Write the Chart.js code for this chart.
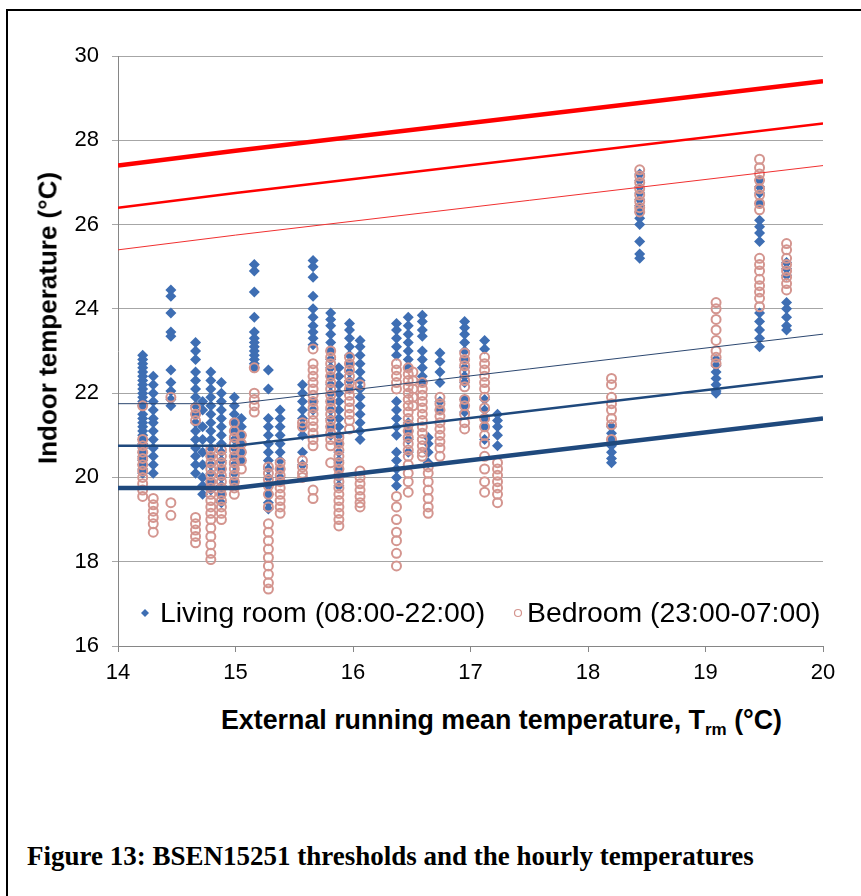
<!DOCTYPE html>
<html lang="en">
<head>
  <meta charset="UTF-8">
  <title>BSEN15251 thresholds and the hourly temperatures</title>
  <script src="https://cdn.jsdelivr.net/npm/chart.js"></script>
  <style>
    body { margin: 0; background: #fff; }
    #wrap { position: relative; width: 861px; height: 896px; overflow: hidden; }
    #frame { position: absolute; left: 6px; top: 9px; right: -10px; bottom: -10px;
             border-left: 2px solid #000; border-top: 2px solid #000; }
    #chart { position: absolute; left: 0; top: 0; }
    .title { position: absolute; font-family: "Liberation Sans", Arial, sans-serif;
             font-weight: bold; color: #000; white-space: nowrap; }
    #xTitle { left: 221px; top: 705px; font-size: 26.8px; }
    #xTitle sub { font-size: 17px; vertical-align: -6px; line-height: 0; }
    #yTitle { left: 48px; top: 318px; font-size: 26px;
              transform: translate(-50%, -50%) rotate(-90deg); }
    #caption { position: absolute; left: 27px; top: 841px; white-space: nowrap;
               font-family: "Liberation Serif", "Times New Roman", serif;
               font-weight: bold; font-size: 27px; color: #000; }
  </style>
</head>
<body>
<div id="wrap">
  <div id="frame"></div>
  <canvas id="chart" width="861" height="700"></canvas>
  <div class="title" id="yTitle">Indoor temperature (°C)</div>
  <div class="title" id="xTitle">External running mean temperature, T<sub>rm</sub> (°C)</div>
  <div id="caption">Figure 13: BSEN15251 thresholds and the hourly temperatures</div>
</div>

<script>
  // running mean temperature of each hourly column (x)
  const livingCols = [14.21, 14.30, 14.45, 14.66, 14.72, 14.79, 14.88, 14.99, 15.05, 15.16,
                      15.28, 15.38, 15.57, 15.66, 15.81, 15.88, 15.97, 16.06, 16.37, 16.47,
                      16.59, 16.64, 16.74, 16.95, 17.12, 17.23, 18.20, 18.44, 19.09, 19.46, 19.69];
  // living room hourly temperatures (08:00-22:00), one list per column
  const livingTemps = [
    [22.9, 22.8, 22.7, 22.6, 22.5, 22.4, 22.3, 22.2, 22.1, 22.0, 21.9, 21.8, 21.7, 21.5, 21.4, 21.3, 21.2, 21.1, 21.0, 20.9, 20.8, 20.7, 20.6, 20.5, 20.4, 20.3, 20.2, 20.1],
    [22.4, 22.2, 22.0, 21.8, 21.6, 21.4, 21.3, 21.1, 20.9, 20.7, 20.5, 20.3, 20.1],
    [24.45, 24.3, 23.9, 23.45, 23.35, 22.55, 22.25, 22.05, 21.85, 21.7],
    [23.2, 23.0, 22.8, 22.5, 22.3, 22.1, 21.9, 21.7, 21.5, 21.3, 21.1, 20.9, 20.7, 20.5, 20.3, 20.1],
    [21.8, 21.6, 21.2, 20.9, 20.6, 20.3, 20.0, 19.8, 19.6],
    [22.5, 22.3, 22.1, 21.9, 21.7, 21.5, 21.3, 21.1, 20.9, 20.7, 20.5, 20.3, 20.1, 19.9, 19.7],
    [22.25, 22.0, 21.8, 21.6, 21.4, 21.2, 21.0, 20.8, 20.6, 20.4, 20.2, 20.0, 19.8, 19.6, 19.4],
    [21.9, 21.7, 21.5, 21.3, 21.1, 20.9, 20.7, 20.5, 20.3, 20.1, 19.9],
    [21.4, 21.2, 21.0, 20.8, 20.6, 20.4],
    [25.05, 24.9, 24.4, 23.8, 23.45, 23.3, 23.2, 23.1, 23.0, 22.9, 22.8, 22.7, 22.6],
    [22.55, 22.1, 21.4, 21.2, 21.0, 20.8, 20.6, 20.4, 20.2, 20.0, 19.8, 19.6, 19.4, 19.25],
    [21.6, 21.4, 21.2, 21.0, 20.8, 20.6, 20.4, 20.2, 20.0, 19.9],
    [22.2, 22.0, 21.8, 21.6, 21.4, 21.2, 21.0, 20.6, 20.3],
    [25.15, 25.0, 24.75, 24.3, 24.0, 23.8, 23.6, 23.45, 23.3, 23.15, 21.8, 21.6],
    [23.9, 23.75, 23.6, 23.4, 23.2, 23.0, 22.8, 22.6, 22.4, 22.2, 22.0, 21.8, 21.6, 21.4, 21.2, 21.0],
    [22.6, 22.4, 22.2, 22.0, 21.8, 21.6, 21.4, 21.2, 21.0, 20.8, 20.6, 20.4, 20.2, 20.0, 19.8],
    [23.65, 23.5, 23.3, 23.1, 22.9, 22.7, 22.5, 22.3, 22.1],
    [23.25, 23.1, 22.9, 22.7, 22.5, 22.3, 22.1, 21.9, 21.7, 21.5, 21.3, 21.1, 20.9],
    [23.65, 23.5, 23.3, 23.1, 22.9, 21.8, 21.6, 21.4, 21.2, 21.0, 20.6, 20.4, 20.2, 20.0, 19.8],
    [23.8, 23.6, 23.4, 23.2, 23.0, 22.8, 22.6, 21.3, 21.1, 20.9, 20.6],
    [23.85, 23.7, 23.5, 23.35, 23.0, 22.8, 22.6, 22.4, 22.25],
    [20.95, 20.8, 20.6, 20.35],
    [22.95, 22.75, 22.5, 22.25, 21.8, 21.6],
    [23.7, 23.55, 23.4, 23.2, 23.0, 22.8, 22.6, 22.4, 22.25, 21.85, 21.7, 21.55],
    [23.25, 23.05, 21.85, 21.6, 21.4, 21.2, 20.9],
    [21.5, 21.35, 21.2, 21.0, 20.75],
    [21.2, 21.05, 20.9, 20.75, 20.6, 20.45, 20.35],
    [27.2, 27.05, 26.9, 26.75, 26.6, 26.45, 26.3, 26.15, 26.0, 25.6, 25.3, 25.2],
    [22.8, 22.65, 22.5, 22.35, 22.2, 22.05, 22.0],
    [27.05, 26.9, 26.75, 26.5, 26.1, 25.95, 25.8, 25.6, 23.9, 23.7, 23.5, 23.3, 23.1],
    [25.1, 24.95, 24.8, 24.15, 24.0, 23.8, 23.6, 23.5]
  ];

  const bedroomCols = [14.21, 14.30, 14.45, 14.66, 14.79, 14.88, 14.99, 15.05, 15.16, 15.28,
                       15.38, 15.57, 15.66, 15.81, 15.88, 15.97, 16.06, 16.37, 16.47, 16.51,
                       16.59, 16.64, 16.74, 16.95, 17.12, 17.23, 18.20, 18.44, 19.09, 19.46, 19.69];
  // bedroom hourly temperatures (23:00-07:00)
  const bedroomTemps = [
    [21.7, 20.9, 20.75, 20.6, 20.45, 20.3, 20.15, 20.0, 19.85, 19.7, 19.55],
    [19.5, 19.35, 19.2, 19.05, 18.9, 18.7],
    [21.9, 19.4, 19.1],
    [21.65, 21.5, 21.35, 19.05, 18.9, 18.75, 18.6, 18.45],
    [20.65, 20.5, 20.35, 20.2, 20.05, 19.9, 19.75, 19.6, 19.45, 19.3, 19.15, 19.0, 18.8, 18.6, 18.4, 18.2, 18.05],
    [20.65, 20.5, 20.35, 20.2, 20.05, 19.9, 19.75, 19.6, 19.45, 19.3, 19.15, 19.0],
    [21.3, 21.1, 20.95, 20.8, 20.65, 20.5, 20.35, 20.2, 20.05, 19.9, 19.75, 19.6],
    [21.0, 20.8, 20.6, 20.4, 20.2],
    [22.6, 22.0, 21.85, 21.7, 21.55],
    [20.25, 20.1, 19.95, 19.8, 19.6, 19.3, 18.9, 18.7, 18.5, 18.3, 18.1, 17.9, 17.7, 17.5, 17.35],
    [20.35, 20.2, 20.05, 19.9, 19.75, 19.6, 19.45, 19.3, 19.15],
    [21.3, 21.2, 20.4, 20.25, 20.1, 20.0],
    [23.05, 22.7, 22.55, 22.4, 22.25, 22.1, 21.95, 21.8, 21.65, 21.5, 21.35, 21.2, 21.05, 20.9, 20.75, 19.7, 19.5],
    [23.0, 22.85, 22.7, 22.55, 22.4, 22.25, 22.1, 21.95, 21.8, 21.65, 21.5, 21.35, 21.2, 21.05, 20.9, 20.75, 20.35],
    [20.95, 20.8, 20.65, 20.5, 20.35, 20.2, 20.05, 19.9, 19.75, 19.6, 19.45, 19.3, 19.15, 19.0, 18.85],
    [22.85, 22.7, 22.55, 22.4, 22.25, 22.1, 21.95, 21.8, 21.65, 21.5, 21.35, 21.15],
    [22.2, 20.15, 20.0, 19.85, 19.7, 19.55, 19.4, 19.3],
    [22.7, 22.55, 22.4, 22.25, 22.1, 19.55, 19.3, 19.0, 18.7, 18.5, 18.2, 17.9],
    [22.6, 22.45, 22.3, 22.15, 22.0, 21.85, 21.7, 21.55, 21.4, 21.25, 21.1, 20.95, 20.8, 20.65, 20.5, 20.3, 20.1, 19.9, 19.65],
    [22.5, 22.3, 22.1, 21.9, 21.7],
    [22.25, 22.1, 21.95, 21.8, 21.65, 21.5, 21.35, 21.2, 21.05, 20.9, 20.75, 20.6, 20.5],
    [20.25, 20.1, 19.9, 19.7, 19.5, 19.3, 19.15],
    [21.9, 21.75, 21.6, 21.45, 21.3, 21.15, 21.0, 20.85, 20.7, 20.5],
    [22.95, 22.8, 22.65, 22.5, 22.3, 22.15, 21.85, 21.7, 21.5, 21.3, 21.15],
    [22.85, 22.7, 22.55, 22.4, 22.25, 22.1, 21.9, 21.65, 21.4, 21.2, 21.0, 20.8, 20.5, 20.2, 19.9, 19.65],
    [20.35, 20.2, 20.05, 19.9, 19.75, 19.6, 19.4],
    [22.35, 22.2, 21.9, 21.75, 21.6, 21.4, 21.25, 20.9],
    [27.3, 27.15, 27.0, 26.85, 26.7, 26.55, 26.4, 26.3],
    [24.15, 24.0, 23.75, 23.5, 23.25, 23.0, 22.85, 22.7],
    [27.55, 27.35, 27.2, 27.05, 26.85, 26.7, 26.5, 26.35, 25.2, 25.05, 24.9, 24.7, 24.55, 24.4, 24.25, 24.05],
    [25.55, 25.4, 25.2, 25.05, 24.9, 24.75, 24.6, 24.45]
  ];

  // BSEN15251 category thresholds
  const thresholdTrm = [14, 15, 20];
  const upperCat3 = [27.4, 27.75, 29.4];
  const upperCat2 = [26.4, 26.75, 28.4];
  const upperCat1 = [25.4, 25.75, 27.4];
  const lowerCat1 = [21.75, 21.75, 23.4];
  const lowerCat2 = [20.75, 20.75, 22.4];
  const lowerCat3 = [19.75, 19.75, 21.4];

  const yTicks = [16, 18, 20, 22, 24, 26, 28, 30];
  const xTicks = [14, 15, 16, 17, 18, 19, 20];

  const seriesLabels = ["Living room (08:00-22:00)", "Bedroom (23:00-07:00)"];

  function toPoints(cols, temps) {
    const pts = [];
    cols.forEach((x, i) => temps[i].forEach(y => pts.push({ x: x, y: y })));
    return pts;
  }

  function thresholdLine(values, color, width) {
    return {
      type: "line",
      data: thresholdTrm.map((x, i) => ({ x: x, y: values[i] })),
      borderColor: color,
      borderWidth: width,
      pointRadius: 0,
      fill: false,
      tension: 0
    };
  }

  const blue = "#3E6EB3";
  const pink = "#D4958F";

  // draws the legend inside the plot, near the bottom
  const insideLegend = {
    id: "insideLegend",
    afterDraw(chart) {
      const ctx = chart.ctx;
      const y = 613;
      ctx.save();
      ctx.font = "28.4px 'Liberation Sans', Arial, sans-serif";
      ctx.textBaseline = "middle";
      // diamond
      ctx.fillStyle = blue;
      ctx.beginPath();
      ctx.moveTo(145, y - 4); ctx.lineTo(149, y); ctx.lineTo(145, y + 4); ctx.lineTo(141, y);
      ctx.closePath(); ctx.fill();
      ctx.fillStyle = "#000";
      ctx.fillText(seriesLabels[0], 160, y + 1);
      // circle
      ctx.strokeStyle = pink;
      ctx.lineWidth = 1.2;
      ctx.beginPath(); ctx.arc(518, y, 3.5, 0, Math.PI * 2); ctx.stroke();
      ctx.fillText(seriesLabels[1], 527, y + 1);
      ctx.restore();
    }
  };

  new Chart(document.getElementById("chart"), {
    type: "scatter",
    data: {
      datasets: [
        thresholdLine(upperCat3, "#FF0000", 4.5),
        thresholdLine(upperCat2, "#FF0000", 2.5),
        thresholdLine(upperCat1, "#F03030", 1),
        thresholdLine(lowerCat1, "#2C4770", 1),
        thresholdLine(lowerCat2, "#1F497D", 2.5),
        thresholdLine(lowerCat3, "#1F497D", 4.5),
        {
          label: seriesLabels[1],
          data: toPoints(bedroomCols, bedroomTemps),
          pointStyle: "circle",
          pointRadius: 4.5,
          pointBorderWidth: 2,
          borderColor: pink,
          backgroundColor: "rgba(0,0,0,0)"
        },
        {
          label: seriesLabels[0],
          data: toPoints(livingCols, livingTemps),
          pointStyle: "rectRot",
          pointRadius: 5.5,
          pointBorderWidth: 0,
          borderColor: blue,
          backgroundColor: blue
        }
      ]
    },
    options: {
      responsive: false,
      animation: false,
      layout: { padding: { left: 0, top: 56, right: 38, bottom: 0 } },
      plugins: { legend: { display: false }, tooltip: { enabled: false } },
      scales: {
        x: {
          type: "linear",
          min: 14, max: 20,
          afterBuildTicks: s => { s.ticks = xTicks.map(v => ({ value: v })); },
          afterFit: s => { s.height = 54; },
          grid: { drawOnChartArea: false, drawTicks: true, tickLength: 6, color: "#868686" },
          border: { color: "#868686", width: 1 },
          ticks: { color: "#000", padding: 8, font: { family: "'Liberation Sans', Arial", size: 22 } }
        },
        y: {
          type: "linear",
          min: 16, max: 30,
          afterBuildTicks: s => { s.ticks = yTicks.map(v => ({ value: v })); },
          afterFit: s => { s.width = 118; },
          grid: { color: "#A6A6A6", lineWidth: 1, tickLength: 6 },
          border: { color: "#868686", width: 1 },
          ticks: { color: "#000", padding: 13, font: { family: "'Liberation Sans', Arial", size: 22 } }
        }
      }
    },
    plugins: [insideLegend]
  });
</script>
</body>
</html>
